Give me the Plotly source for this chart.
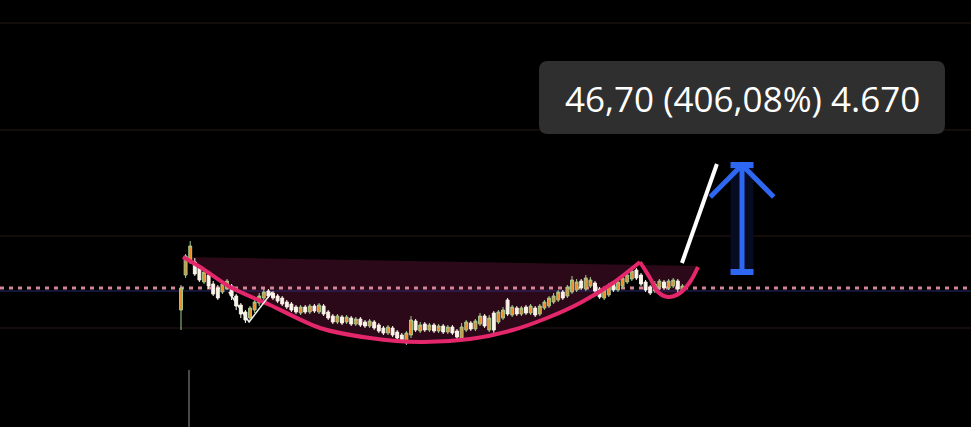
import plotly.graph_objects as go

# ---------------- data ----------------
candle_idx = list(range(110))
opens = [9.0, 12.5, 13.8, 13.8, 13.2, 11.8, 12.5, 11.6, 11.2, 10.8,
         11.2, 11.4, 10.4, 9.5, 8.8, 8.2, 9.0, 9.7, 10.2, 10.9,
         10.7, 10.4, 10.2, 9.8, 9.6, 9.3, 8.7, 9.3, 8.8, 9.4,
         8.8, 9.4, 8.8, 8.4, 7.8, 8.3, 7.8, 8.2, 7.6, 8.1,
         7.8, 7.4, 7.8, 7.5, 7.2, 6.7, 7.2, 6.8, 6.5, 5.7,
         6.5, 7.9, 6.9, 7.6, 7.0, 7.5, 6.9, 7.4, 6.8, 7.3,
         6.9, 6.2, 7.0, 7.7, 7.1, 7.6, 8.4, 7.0, 8.7, 7.8,
         8.2, 10.0, 8.5, 9.2, 8.6, 9.3, 8.7, 9.2, 8.6, 9.2,
         9.4, 9.8, 10.0, 10.8, 10.4, 10.8, 11.0, 11.9, 11.1, 11.4,
         11.7, 11.1, 10.2, 10.5, 11.7, 11.0, 11.4, 11.8, 12.1, 13.0,
         12.5, 11.8, 11.3, 10.9, 11.3, 11.8, 11.2, 11.4, 11.9, 10.9]
closes = [11.2, 14.4, 15.4, 12.6, 12.0, 12.8, 11.4, 10.6, 10.2, 11.6,
          11.9, 10.4, 9.4, 8.6, 8.0, 9.2, 9.8, 10.4, 10.8, 10.4,
          10.2, 9.9, 9.6, 9.3, 9.0, 8.8, 9.3, 8.8, 9.4, 8.9,
          9.5, 8.6, 8.2, 7.8, 8.4, 7.7, 8.3, 7.6, 8.1, 7.5,
          7.4, 7.9, 7.2, 6.9, 6.7, 7.3, 6.5, 6.2, 5.9, 6.7,
          8.0, 7.0, 7.5, 7.0, 7.5, 6.9, 7.4, 6.8, 7.3, 6.7,
          6.3, 7.3, 7.8, 7.1, 7.9, 8.4, 7.4, 8.2, 7.0, 8.8,
          9.0, 8.6, 9.3, 8.6, 9.2, 8.7, 9.4, 8.5, 9.4, 9.8,
          10.2, 10.4, 10.8, 10.2, 11.3, 12.0, 11.8, 11.2, 12.2, 12.0,
          10.9, 10.3, 11.0, 11.4, 11.0, 11.8, 12.2, 12.5, 12.9, 12.2,
          11.6, 11.0, 10.7, 11.6, 11.9, 11.2, 11.9, 12.0, 11.1, 11.4]
highs = [11.5, 14.6, 15.9, 14.2, 13.5, 13.2, 12.8, 11.9, 11.5, 11.9,
         12.1, 11.6, 10.6, 9.7, 9.0, 9.4, 10.1, 10.7, 11.1, 11.1,
         10.9, 10.6, 10.4, 10.0, 9.8, 9.5, 9.5, 9.5, 9.6, 9.6,
         9.7, 9.6, 9.0, 8.6, 8.6, 8.5, 8.5, 8.4, 8.3, 8.3,
         8.0, 8.1, 8.0, 7.7, 7.4, 7.5, 7.4, 7.0, 6.7, 6.9,
         8.4, 8.1, 7.8, 7.8, 7.7, 7.7, 7.6, 7.6, 7.5, 7.5,
         7.1, 7.7, 8.0, 7.9, 8.1, 8.7, 8.6, 8.5, 8.9, 9.0,
         9.3, 10.2, 9.5, 9.4, 9.4, 9.5, 9.6, 9.4, 9.6, 10.0,
         10.4, 10.7, 11.0, 11.0, 11.5, 12.4, 12.1, 12.1, 12.5, 12.3,
         11.9, 11.3, 11.3, 11.7, 11.9, 12.1, 12.4, 12.8, 13.2, 13.2,
         12.7, 12.0, 11.5, 11.9, 12.1, 12.0, 12.1, 12.2, 12.1, 11.6]
lows = [7.0, 12.2, 13.6, 12.4, 11.8, 11.6, 11.1, 10.4, 10.0, 10.6,
        11.0, 10.0, 9.0, 8.2, 7.7, 7.9, 8.7, 9.4, 10.0, 10.2,
        10.0, 9.7, 9.4, 9.1, 8.8, 8.6, 8.5, 8.6, 8.6, 8.7,
        8.6, 8.4, 8.0, 7.6, 7.6, 7.5, 7.6, 7.4, 7.4, 7.3,
        7.2, 7.2, 7.0, 6.7, 6.5, 6.5, 6.3, 6.0, 5.7, 5.5,
        6.2, 6.8, 6.7, 6.8, 6.8, 6.7, 6.7, 6.6, 6.6, 6.5,
        6.0, 6.0, 6.8, 6.9, 6.9, 7.4, 7.2, 6.8, 6.6, 7.6,
        8.0, 8.4, 8.3, 8.4, 8.4, 8.5, 8.5, 8.3, 8.4, 9.0,
        9.2, 9.6, 9.8, 10.0, 10.2, 10.6, 10.8, 11.0, 10.9, 11.2,
        10.7, 10.1, 10.0, 10.3, 10.8, 10.8, 11.2, 11.6, 11.9, 12.0,
        11.4, 10.8, 10.5, 10.7, 11.0, 11.0, 11.0, 11.2, 10.8, 10.7]

# cup-and-handle drawing (index units / price units)
cup_x = [0.43, 4.13, 10.65, 19.35, 30.22, 41.09, 51.96, 62.83, 72.17, 79.57, 86.74, 93.91, 99.78]
cup_y = [14.3, 13.3, 11.3, 9.5, 7.2, 6.2, 5.8, 6.1, 7.0, 8.2, 9.7, 11.7, 13.8]
handle_x = [99.78, 101.96, 103.7, 105.87, 108.48, 110.65, 112.39]
handle_y = [13.8, 12.2, 10.8, 10.3, 10.7, 11.8, 13.3]
rim_x = [0.43, 112.39]
rim_y = [14.3, 13.4]
current_price = 11.2
breakout_x = [108.9, 116.5]
breakout_y = [13.7, 23.6]
arrow_x = 121.96
arrow_bottom = 12.8
arrow_top = 23.5
arrow_cap_half = 2.5
arrow_head_dx = 6.9
arrow_head_y = 20.3
zig_x = [10.4, 14.8, 19.8]
zig_y = [10.8, 7.8, 10.8]
vol_x = 1.74
vol_y = [-2.7, 3.0]
grid_vals = [7.2, 16.4, 27.0, 37.7]
label_text = "46,70 (406,08%) 4.670"

X_RANGE = [-39.35, 171.74]
Y_RANGE = [-2.7, 40.0]

PINK = "#e4266a"
BLUE = "#2e68f2"

fig = go.Figure()

# --- main axes: fill + price line
fig.add_trace(go.Scatter(x=rim_x, y=rim_y, mode="lines", line=dict(width=0),
                         hoverinfo="skip", showlegend=False))
fig.add_trace(go.Scatter(x=cup_x + handle_x[1:], y=cup_y + handle_y[1:], mode="lines",
                         line=dict(width=0, shape="spline", smoothing=0.8),
                         fill="tonexty", fillcolor="#2c0919",
                         hoverinfo="skip", showlegend=False))
fig.add_trace(go.Scatter(x=X_RANGE, y=[current_price - 0.3] * 2, mode="lines",
                         line=dict(width=1, color="#262a70"),
                         hoverinfo="skip", showlegend=False))
fig.add_trace(go.Scatter(x=X_RANGE, y=[current_price] * 2, mode="lines",
                         line=dict(width=3, color="#d48497", dash="4px,5px"),
                         hoverinfo="skip", showlegend=False))

# --- overlay 2: candles
fig.add_trace(go.Candlestick(x=candle_idx, open=opens, high=highs, low=lows, close=closes,
                             xaxis="x2", yaxis="y2",
                             increasing=dict(line=dict(color="#a3c98f", width=1), fillcolor="#f08c28"),
                             decreasing=dict(line=dict(color="#fbf3e8", width=1), fillcolor="#fbf3e8"),
                             hoverinfo="skip", showlegend=False))

# --- overlay 3: drawings
fig.add_trace(go.Scatter(x=cup_x, y=cup_y, mode="lines", xaxis="x3", yaxis="y3",
                         line=dict(width=4, color=PINK, shape="spline", smoothing=0.8),
                         hoverinfo="skip", showlegend=False))
fig.add_trace(go.Scatter(x=handle_x, y=handle_y, mode="lines", xaxis="x3", yaxis="y3",
                         line=dict(width=4, color=PINK, shape="spline", smoothing=1.0),
                         hoverinfo="skip", showlegend=False))
fig.add_trace(go.Scatter(x=zig_x, y=zig_y, mode="lines", xaxis="x3", yaxis="y3",
                         line=dict(width=1.5, color="#eef5ea"),
                         hoverinfo="skip", showlegend=False))
fig.add_trace(go.Scatter(x=breakout_x, y=breakout_y, mode="lines", xaxis="x3", yaxis="y3",
                         line=dict(width=4, color="#ffffff"),
                         hoverinfo="skip", showlegend=False))
fig.add_trace(go.Scatter(x=[arrow_x - arrow_cap_half, arrow_x + arrow_cap_half,
                            arrow_x + arrow_cap_half, arrow_x - arrow_cap_half, arrow_x - arrow_cap_half],
                         y=[arrow_bottom, arrow_bottom, arrow_top, arrow_top, arrow_bottom],
                         mode="lines", fill="toself", fillcolor="#070c22", line=dict(width=0),
                         xaxis="x3", yaxis="y3", hoverinfo="skip", showlegend=False))
fig.add_trace(go.Scatter(x=[arrow_x, arrow_x], y=[arrow_bottom, arrow_top], mode="lines",
                         xaxis="x3", yaxis="y3", line=dict(width=5, color=BLUE),
                         hoverinfo="skip", showlegend=False))
for yy in (arrow_bottom, arrow_top):
    fig.add_trace(go.Scatter(x=[arrow_x - arrow_cap_half, arrow_x + arrow_cap_half], y=[yy, yy],
                             mode="lines", xaxis="x3", yaxis="y3", line=dict(width=6, color=BLUE),
                             hoverinfo="skip", showlegend=False))
fig.add_trace(go.Scatter(x=[arrow_x - arrow_head_dx, arrow_x, arrow_x + arrow_head_dx],
                         y=[arrow_head_y, arrow_top, arrow_head_y], mode="lines",
                         xaxis="x3", yaxis="y3", line=dict(width=5, color=BLUE),
                         hoverinfo="skip", showlegend=False))
fig.add_trace(go.Scatter(x=[vol_x, vol_x], y=vol_y, mode="lines", xaxis="x3", yaxis="y3",
                         line=dict(width=1, color="#9a9090"),
                         hoverinfo="skip", showlegend=False))

# label box (rounded), pixel-sized relative to paper bottom-left
x0, x1, y0, y1, r = 539, 945, 293, 366, 9
path = (f"M{x0+r},{y0} L{x1-r},{y0} Q{x1},{y0} {x1},{y0+r} L{x1},{y1-r} Q{x1},{y1} {x1-r},{y1} "
        f"L{x0+r},{y1} Q{x0},{y1} {x0},{y1-r} L{x0},{y0+r} Q{x0},{y0} {x0+r},{y0} Z")
fig.add_shape(type="path", xref="paper", yref="paper", xsizemode="pixel", ysizemode="pixel",
              xanchor=0, yanchor=0, path=path, fillcolor="#2f2f2f", line=dict(width=0), layer="above")
fig.add_annotation(xref="paper", yref="paper", x=742 / 971, y=1 - 98 / 427, text=label_text,
                   showarrow=False, font=dict(family="Open Sans", size=35, color="#ffffff"),
                   xanchor="center", yanchor="middle")

axis_common = dict(showticklabels=False, zeroline=False, showline=False, fixedrange=True)
fig.update_layout(
    width=971, height=427, margin=dict(l=0, r=0, t=0, b=0),
    paper_bgcolor="#000000", plot_bgcolor="#000000", showlegend=False, boxgap=0.1,
    xaxis=dict(range=X_RANGE, showgrid=False, rangeslider=dict(visible=False), **axis_common),
    yaxis=dict(range=Y_RANGE, showgrid=True, gridcolor="#140c0a", gridwidth=2,
               tickvals=grid_vals, ticks="", **axis_common),
    xaxis2=dict(range=X_RANGE, overlaying="x", visible=False, rangeslider=dict(visible=False)),
    yaxis2=dict(range=Y_RANGE, overlaying="y", visible=False),
    xaxis3=dict(range=X_RANGE, overlaying="x", visible=False),
    yaxis3=dict(range=Y_RANGE, overlaying="y", visible=False),
)

fig.write_html("out.html", config={"displayModeBar": False},
               post_script="document.body.style.margin='0';document.body.style.overflow='hidden';")
